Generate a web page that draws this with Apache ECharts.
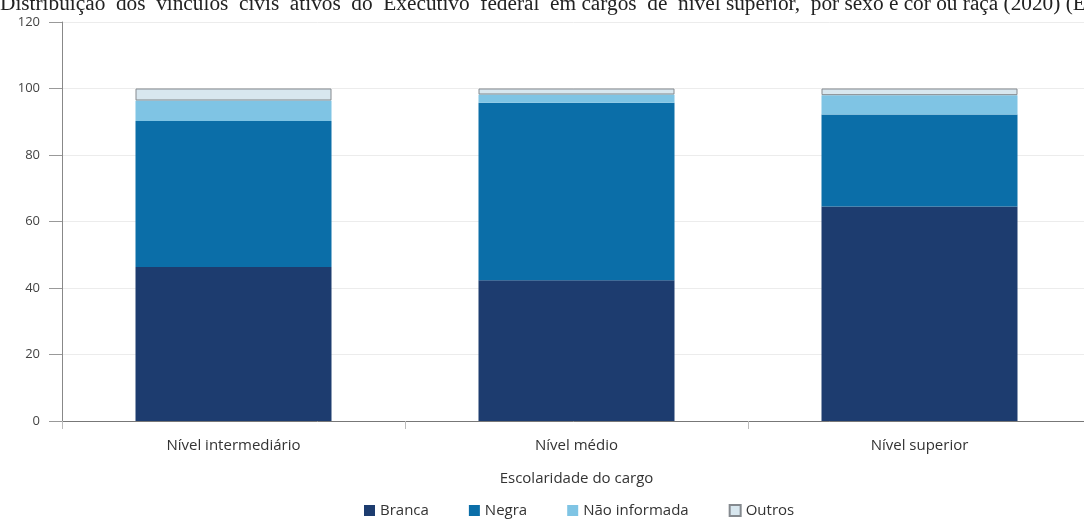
<!DOCTYPE html>
<html>
<head>
<meta charset="utf-8">
<script src="https://cdn.jsdelivr.net/npm/echarts@6/dist/echarts.min.js"></script>
<style>
  html, body { margin: 0; padding: 0; background: #fff; }
  #chart { width: 1084px; height: 521px; }
</style>
</head>
<body>
<div id="chart"></div>
<script>
// Distribuição (%) por cor ou raça, segundo a escolaridade do cargo
const titleText = 'Distribuição  dos  vínculos  civis  ativos  do  Executivo  federal  em cargos  de  nível superior,  por sexo e cor ou raça (2020) (Em %)';
const categories = ['Nível intermediário', 'Nível médio', 'Nível superior'];
const branca = [46.3, 42.3, 64.5];
const negra = [43.9, 53.4, 27.7];
const naoInformada = [6.2, 2.5, 5.8];
const outros = [3.6, 1.8, 2.0];
const yTicks = [0, 20, 40, 60, 80, 100, 120];

const font = '"Open Sans", "Noto Sans", sans-serif';
const chart = echarts.init(document.getElementById('chart'));

function stackSeries(name, data, color, extra) {
  return Object.assign({
    name: name,
    type: 'bar',
    stack: 'total',
    data: data,
    barWidth: 196,
    itemStyle: { color: color },
    emphasis: { disabled: true }
  }, extra || {});
}

chart.setOption({
  animation: false,
  backgroundColor: '#ffffff',
  graphic: [{
    type: 'text',
    left: 0,
    top: -6,
    style: {
      text: titleText,
      font: '21.3px "Liberation Serif", "DejaVu Serif", serif',
      fill: '#222'
    }
  }],
  legend: {
    top: 498,
    left: 359,
    itemWidth: 11,
    itemHeight: 11,
    itemGap: 40,
    icon: 'rect',
    textStyle: { fontFamily: font, fontSize: 15, color: '#333' },
    data: ['Branca', 'Negra', 'Não informada', 'Outros']
  },
  grid: { left: 62, top: 22, width: 1029, height: 399, outerBoundsMode: 'none', containLabel: false },
  xAxis: {
    type: 'category',
    data: categories,
    name: 'Escolaridade do cargo',
    nameLocation: 'middle',
    nameGap: 50,
    nameTextStyle: { fontFamily: font, fontSize: 15, color: '#333' },
    axisLine: { lineStyle: { color: '#777', width: 1 } },
    axisTick: { show: true, length: 8, lineStyle: { color: '#bbb' } },
    axisLabel: { fontFamily: font, fontSize: 15, color: '#333', margin: 17 }
  },
  yAxis: {
    type: 'value',
    min: yTicks[0],
    max: yTicks[yTicks.length - 1],
    interval: 20,
    axisLine: { show: true, lineStyle: { color: '#888', width: 1 } },
    axisTick: { show: true, length: 13, lineStyle: { color: '#999' } },
    axisLabel: { fontFamily: font, fontSize: 13, color: '#444', margin: 22 },
    splitLine: { lineStyle: { color: '#ececec' } }
  },
  series: [
    stackSeries('Branca', branca, '#1d3c6f'),
    stackSeries('Negra', negra, '#0b6ea8'),
    stackSeries('Não informada', naoInformada, '#7fc4e4'),
    stackSeries('Outros', outros, '#d8e7ef', {
      itemStyle: { color: '#d8e7ef', borderColor: '#858a8f', borderWidth: 1 }
    })
  ]
});
</script>
</body>
</html>
